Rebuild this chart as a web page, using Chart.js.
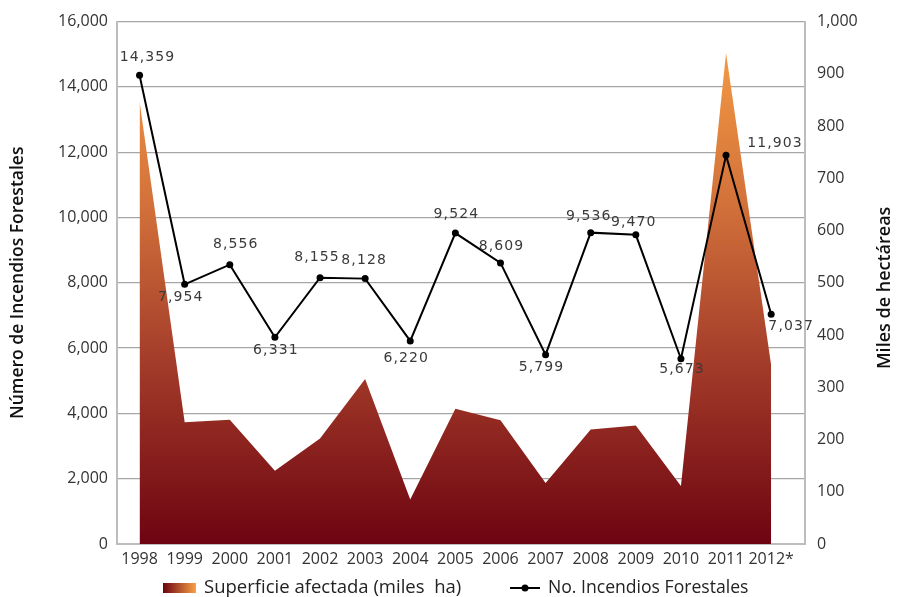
<!DOCTYPE html>
<html>
<head>
<meta charset="utf-8">
<script src="https://cdn.jsdelivr.net/npm/chart.js@4.4.1/dist/chart.umd.min.js"></script>
<style>
html,body{margin:0;padding:0;background:#fff;}
#wrap{width:898px;height:597px;position:relative;}
</style>
</head>
<body>
<div id="wrap"><canvas id="c" width="898" height="597"></canvas></div>
<script>
// ---- data ----
const years = ['1998','1999','2000','2001','2002','2003','2004','2005','2006','2007','2008','2009','2010','2011','2012*'];
const incendios = [14359, 7954, 8556, 6331, 8155, 8128, 6220, 9524, 8609, 5799, 9536, 9470, 5673, 11903, 7037];
const superficie = [847, 233, 238, 140, 202, 316, 85, 259, 237, 117, 219, 227, 111, 940, 342];
const leftTicksMax = 16000;
const rightTicksMax = 1000;
const seriesNames = ['Superficie afectada (miles  ha)', 'No. Incendios Forestales'];
const axisTitles = ['Número de Incendios Forestales', 'Miles de hectáreas'];

// label placement (style only)
const labelOffsets = [[8,-18],[-4,13],[6,-20],[1,13],[-3,-20],[-1,-18],[-4,17],[1,-19],[1,-17],[-4,13],[-2,-16],[-2,-12],[1,11],[49,-12],[20,12]];

const TICK_FONT = {family:'"Open Sans", sans-serif', size:16};
const fmt = new Intl.NumberFormat('en-US');

const areaPoints = superficie.map((v, i) => ({x: i, y: v}));
const linePoints = incendios.map((v, i) => ({x: i, y: v}));

function areaGradient(ctx, ca){
  const g = ctx.createLinearGradient(0, ca.top, 0, ca.bottom);
  g.addColorStop(0, '#F9A146');
  g.addColorStop(0.35, '#D2713A');
  g.addColorStop(0.65, '#A43C2A');
  g.addColorStop(1, '#6D0411');
  return g;
}

const extrasPlugin = {
  id: 'extras',
  afterDatasetsDraw(chart){
    const ctx = chart.ctx;
    const meta = chart.getDatasetMeta(1);
    ctx.save();
    ctx.font = '14px "DejaVu Sans", sans-serif';
    ctx.letterSpacing = '1.1px';
    ctx.fillStyle = '#3a3a3a';
    ctx.textAlign = 'center';
    ctx.textBaseline = 'middle';
    meta.data.forEach((pt, i) => {
      const o = labelOffsets[i];
      ctx.fillText(fmt.format(incendios[i]), pt.x + o[0], pt.y + o[1]);
    });
    ctx.restore();
  },
  afterDraw(chart){
    const ctx = chart.ctx;
    const ca = chart.chartArea;
    const midY = (ca.top + ca.bottom) / 2;
    ctx.save();
    ctx.fillStyle = '#111';
    ctx.font = '600 17.5px "Open Sans", sans-serif';
    ctx.textAlign = 'center';
    ctx.textBaseline = 'middle';
    ctx.translate(18, midY);
    ctx.rotate(-Math.PI/2);
    ctx.fillText(axisTitles[0], 0, 0);
    ctx.restore();
    ctx.save();
    ctx.fillStyle = '#111';
    ctx.font = '600 18px "Open Sans", sans-serif';
    ctx.textAlign = 'center';
    ctx.textBaseline = 'middle';
    ctx.translate(885, midY + 5);
    ctx.rotate(-Math.PI/2);
    ctx.fillText(axisTitles[1], 0, 0);
    ctx.restore();

    // legend
    const ly = 588;
    ctx.save();
    const g = ctx.createLinearGradient(163, 0, 196, 0);
    g.addColorStop(0, '#6D0411');
    g.addColorStop(1, '#F9A146');
    ctx.fillStyle = g;
    ctx.fillRect(163, ly - 5, 33, 10);
    ctx.fillStyle = '#222';
    ctx.font = '18.5px "Open Sans", sans-serif';
    ctx.textAlign = 'left';
    ctx.textBaseline = 'middle';
    ctx.fillText(seriesNames[0], 204, ly);
    ctx.strokeStyle = '#000';
    ctx.lineWidth = 2;
    ctx.beginPath();
    ctx.moveTo(510, ly); ctx.lineTo(540, ly);
    ctx.stroke();
    ctx.beginPath();
    ctx.arc(525, ly, 3.5, 0, Math.PI*2);
    ctx.fillStyle = '#000';
    ctx.fill();
    ctx.fillStyle = '#222';
    ctx.font = '17.6px "Open Sans", sans-serif';
    ctx.fillText(seriesNames[1], 548, ly);
    ctx.restore();
  }
};

new Chart(document.getElementById('c'), {
  type: 'line',
  data: {
    datasets: [
      {
        label: seriesNames[0],
        data: areaPoints,
        yAxisID: 'y2',
        fill: 'origin',
        backgroundColor: (c) => {
          const ca = c.chart.chartArea;
          if (!ca) return '#A43C2A';
          return areaGradient(c.chart.ctx, ca);
        },
        borderWidth: 0,
        borderColor: 'rgba(0,0,0,0)',
        pointRadius: 0,
        tension: 0,
        order: 1
      },
      {
        label: seriesNames[1],
        data: linePoints,
        yAxisID: 'y',
        fill: false,
        borderColor: '#000',
        backgroundColor: '#000',
        borderWidth: 2,
        pointRadius: 3.5,
        pointBackgroundColor: '#000',
        pointBorderWidth: 0,
        tension: 0,
        order: 0
      }
    ]
  },
  options: {
    responsive: false,
    animation: false,
    locale: 'en-US',
    layout: {padding: {top: 20, left: 0, right: 0, bottom: 0}},
    plugins: {legend: {display: false}, tooltip: {enabled: false}},
    scales: {
      x: {
        type: 'linear',
        min: -0.5,
        max: years.length - 0.25,
        afterBuildTicks(s){ s.ticks = years.map((_, i) => ({value: i})); },
        grid: {display: false, drawTicks: false},
        border: {color: '#bdbdbd', width: 2},
        ticks: {color: '#333', font: TICK_FONT, padding: 6, maxRotation: 0, autoSkip: false,
                callback: (v) => years[v] !== undefined ? years[v] : ''},
        afterFit(s){ s.height = 53; }
      },
      y: {
        position: 'left',
        min: 0, max: leftTicksMax,
        ticks: {stepSize: 2000, color: '#333', font: TICK_FONT, padding: 9},
        grid: {color: '#a6a6a6', lineWidth: 1.3, drawTicks: false},
        border: {color: '#bdbdbd', width: 2},
        afterFit(s){ s.width = 117; }
      },
      y2: {
        position: 'right',
        min: 0, max: rightTicksMax,
        ticks: {stepSize: 100, color: '#333', font: TICK_FONT, padding: 12},
        grid: {display: false, drawTicks: false},
        border: {color: '#bdbdbd', width: 2},
        afterFit(s){ s.width = 93; }
      }
    }
  },
  plugins: [extrasPlugin]
});
</script>
</body>
</html>
